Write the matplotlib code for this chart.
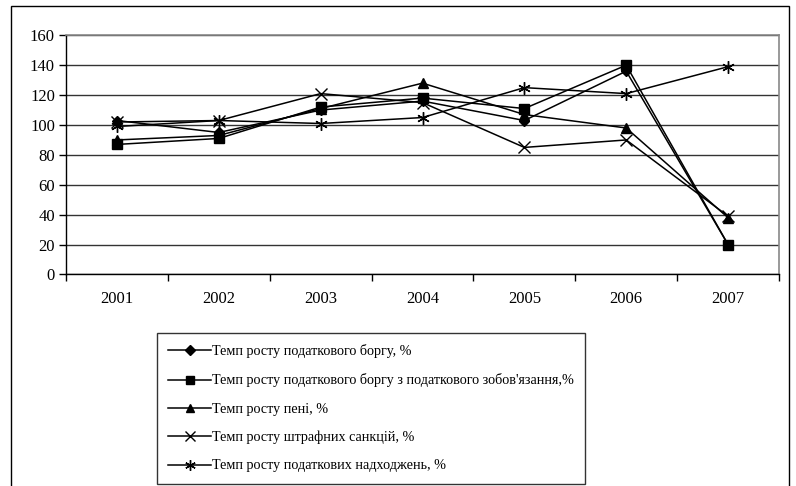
import matplotlib
matplotlib.use("Agg")
import matplotlib.pyplot as plt
from matplotlib.patches import Rectangle
from matplotlib.ticker import MultipleLocator, FixedLocator

plt.rcParams['font.family'] = ['Liberation Serif', 'DejaVu Serif']

years = ['2001', '2002', '2003', '2004', '2005', '2006', '2007']
debt = [103, 95, 110, 116, 103, 136, 20]
debt_oblig = [87, 91, 112, 118, 111, 140, 20]
penalty_interest = [90, 93, 111, 128, 107, 98, 38]
fines = [102, 103, 121, 115, 85, 90, 39]
revenues = [99, 103, 101, 105, 125, 121, 139]

labels = [
    "Темп росту податкового боргу, %",
    "Темп росту податкового боргу з податкового зобов'язання,%",
    "Темп росту пені, %",
    "Темп росту штрафних санкцій, %",
    "Темп росту податкових надходжень, %",
]
series = [debt, debt_oblig, penalty_interest, fines, revenues]
markers = ['D', 's', '^', 'x', (6, 2, 0)]
msizes = [5.5, 6.5, 7.5, 8, 9]

W, H = 796, 486
fig = plt.figure(figsize=(W / 100, H / 100), dpi=100)
ax = fig.add_axes([66 / W, 1 - 274.5 / H, (779 - 66) / W, (274.5 - 35.3) / H])

x = list(range(len(years)))
for vals, lab, m, ms in zip(series, labels, markers, msizes):
    ax.plot(x, vals, color='black', lw=1.1, marker=m, markersize=ms,
            markerfacecolor='black', markeredgecolor='black',
            markeredgewidth=1.0, label=lab, zorder=3)

ax.set_ylim(0, 160)
ax.set_xlim(-0.5, len(years) - 0.5)
ax.yaxis.set_major_locator(MultipleLocator(20))
ax.set_xticks(x)
ax.set_xticklabels(years)
ax.xaxis.set_minor_locator(FixedLocator([i - 0.5 for i in range(len(years) + 1)]))
ax.tick_params(axis='x', which='major', length=0, pad=12, labelsize=12)
ax.tick_params(axis='x', which='minor', length=5, width=1, direction='out', color='black')
ax.tick_params(axis='y', which='major', length=5, width=1, direction='out', labelsize=12, pad=3)
ax.grid(axis='y', color='#333333', lw=1.0, zorder=1)
ax.set_axisbelow(True)
for s in ['top', 'right']:
    ax.spines[s].set_color('#888888')
    ax.spines[s].set_linewidth(1.2)
for s in ['left', 'bottom']:
    ax.spines[s].set_color('black')
    ax.spines[s].set_linewidth(1.0)

leg = fig.legend(loc='upper left', bbox_to_anchor=(157 / W, 1 - 333 / H),
                 frameon=True, fancybox=False, fontsize=10.2, handlelength=3.0,
                 handletextpad=0.1, labelspacing=1.07, borderpad=0.8,
                 borderaxespad=0, markerscale=0.85)
leg.get_frame().set_edgecolor('black')
leg.get_frame().set_linewidth(1.0)

fig.patches.append(Rectangle((11 / W, -0.05), (789 - 11) / W, 1.05 - 6 / H,
                             transform=fig.transFigure, fill=False,
                             edgecolor='black', lw=1.0))

fig.savefig('out.png', dpi=100)
